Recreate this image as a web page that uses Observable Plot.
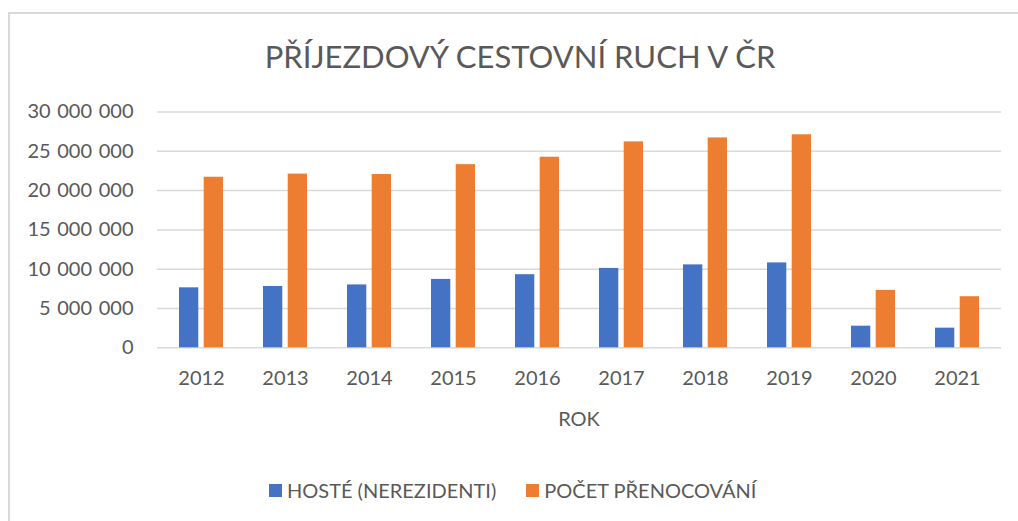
<!DOCTYPE html>
<html>
<head>
<meta charset="utf-8">
<script src="https://cdn.jsdelivr.net/npm/d3@7"></script>
<script src="https://cdn.jsdelivr.net/npm/@observablehq/plot@0.6"></script>
<style>
  html, body { margin: 0; padding: 0; background: #fff; }
  body { width: 1018px; height: 521px; position: relative; overflow: hidden; font-family: Lato, "Open Sans", sans-serif; color: #595959; }
  #frame { position: absolute; left: 8px; top: 12px; width: 1100px; height: 600px; border-left: 2px solid #d9d9d9; border-top: 2px solid #d9d9d9; box-sizing: border-box; }
  #title { position: absolute; left: 0; top: 36px; width: 1040px; text-align: center; font-size: 31px; font-weight: 400; line-height: 40px; white-space: nowrap; }
  #chart { position: absolute; left: 0; top: 90px; }
  #xlabel { position: absolute; left: 157px; width: 844px; top: 405px; text-align: center; font-size: 20px; line-height: 26px; }
  #legend { position: absolute; top: 477px; left: 269px; display: flex; align-items: center; font-size: 20px; line-height: 26px; white-space: nowrap; }
  .sw { display: inline-block; width: 13px; height: 13px; margin-right: 5px; }
  .item { display: flex; align-items: center; }
</style>
</head>
<body>
<div id="frame"></div>
<div id="title">PŘÍJEZDOVÝ CESTOVNÍ RUCH V ČR</div>
<div id="chart"></div>
<div id="xlabel">ROK</div>
<div id="legend"></div>
<script>
const years = ["2012","2013","2014","2015","2016","2017","2018","2019","2020","2021"];
const hoste = [7630000, 7800000, 8000000, 8700000, 9300000, 10100000, 10550000, 10800000, 2750000, 2500000];
const prenocovani = [21700000, 22100000, 22050000, 23300000, 24250000, 26200000, 26700000, 27100000, 7300000, 6500000];
const yTicks = [0, 5000000, 10000000, 15000000, 20000000, 25000000, 30000000];
const seriesNames = ["HOSTÉ (NEREZIDENTI)", "POČET PŘENOCOVÁNÍ"];
const seriesColors = ["#4472c4", "#ed7d31"];

const rowsH = years.map((y, i) => ({year: y, value: hoste[i]}));
const rowsP = years.map((y, i) => ({year: y, value: prenocovani[i]}));
const fmt = d => d3.format(",")(d).replace(/,/g, "\u2004");

const chart = Plot.plot({
  width: 1018,
  height: 350,
  marginTop: 21.5,
  marginBottom: 92.7,
  marginLeft: 157,
  marginRight: 17,
  style: {fontFamily: "Lato, 'Open Sans', sans-serif", fontSize: "20px", color: "#595959", background: "transparent"},
  x: {domain: years, paddingInner: 0.479, paddingOuter: 0.2395, tickSize: 0, tickPadding: 23, label: null},
  y: {domain: [0, 30000000], ticks: yTicks, tickFormat: fmt, tickSize: 0, tickPadding: 24, label: null},
  marks: [
    Plot.ruleY(yTicks, {stroke: "#d9d9d9", strokeWidth: 1.5}),
    Plot.barY(rowsH, {x: "year", y: "value", fill: seriesColors[0], insetRight: 24.7}),
    Plot.barY(rowsP, {x: "year", y: "value", fill: seriesColors[1], insetLeft: 24.7})
  ]
});
document.getElementById("chart").appendChild(chart);

const legend = document.getElementById("legend");
seriesNames.forEach((name, i) => {
  const it = document.createElement("div");
  it.className = "item";
  if (i > 0) it.style.marginLeft = "30px";
  const sw = document.createElement("span");
  sw.className = "sw";
  sw.style.background = seriesColors[i];
  it.appendChild(sw);
  const t = document.createElement("span");
  t.textContent = name;
  it.appendChild(t);
  legend.appendChild(it);
});
</script>
</body>
</html>
